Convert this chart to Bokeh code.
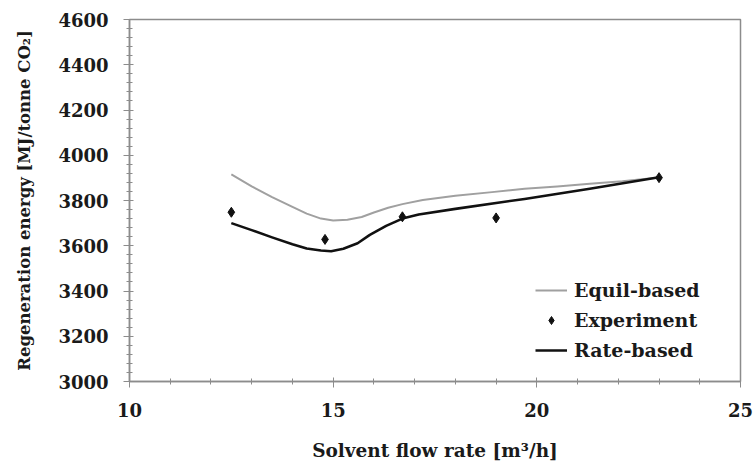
from bokeh.plotting import figure
from bokeh.models import FixedTicker, Legend, LegendItem, Range1d
from bokeh.embed import file_html
from bokeh.resources import INLINE

# Data
equil_x = [12.5, 13.0, 13.5, 14.0, 14.35, 14.7, 15.0, 15.35, 15.7, 16.0, 16.35, 16.7, 17.2, 18.0, 18.9, 19.7, 20.5, 21.3, 22.1, 23.0]
equil_y = [3915, 3862, 3815, 3772, 3742, 3720, 3712, 3715, 3727, 3747, 3768, 3784, 3802, 3821, 3837, 3852, 3862, 3874, 3885, 3902]

rate_x = [12.5, 13.0, 13.5, 14.0, 14.35, 14.7, 14.95, 15.25, 15.6, 15.9, 16.3, 16.7, 17.1, 18.0, 19.7, 21.3, 23.0]
rate_y = [3700, 3669, 3637, 3607, 3588, 3579, 3576, 3587, 3611, 3648, 3688, 3720, 3738, 3763, 3807, 3852, 3903]

exp_x = [12.5, 14.8, 16.7, 19.0, 23.0]
exp_y = [3748, 3628, 3728, 3723, 3901]

x_ticks = [10, 15, 20, 25]
y_ticks = [3000, 3200, 3400, 3600, 3800, 4000, 4200, 4400, 4600]
x_minor = list(range(10, 26))
y_minor = list(range(3000, 4601, 40))

FONT = "DejaVu Serif"
TXT = "#1a1a1a"
AX = "#8c8c8c"

p = figure(width=755, height=463, output_backend="svg", toolbar_location=None,
           x_range=Range1d(10, 25), y_range=Range1d(3000, 4600),
           min_border_left=129, min_border_right=15, min_border_top=19, min_border_bottom=82)
p.xgrid.visible = False
p.ygrid.visible = False
p.outline_line_color = AX
p.outline_line_width = 1.5

l_eq = p.line(equil_x, equil_y, line_color="#a0a0a0", line_width=2, line_join="round")
l_rate = p.line(rate_x, rate_y, line_color="#111111", line_width=2.6, line_join="round")
s_exp = p.scatter(exp_x, exp_y, marker="diamond", size=10, fill_color="#111111", line_color="#111111")

p.xaxis.ticker = FixedTicker(ticks=x_ticks, minor_ticks=x_minor)
p.yaxis.ticker = FixedTicker(ticks=y_ticks, minor_ticks=y_minor)

for ax in (p.xaxis[0], p.yaxis[0]):
    ax.axis_line_color = AX
    ax.axis_line_width = 1.5
    ax.major_tick_line_color = AX
    ax.minor_tick_line_color = AX
    ax.major_tick_out = 6
    ax.major_tick_in = 4
    ax.minor_tick_out = 3
    ax.minor_tick_in = 3
    ax.major_label_text_font = FONT
    ax.major_label_text_font_style = "bold"
    ax.major_label_text_font_size = "18px"
    ax.major_label_text_color = TXT
    ax.axis_label_text_font = FONT
    ax.axis_label_text_font_style = "bold"
    ax.axis_label_text_color = TXT

p.xaxis.major_label_standoff = 15
p.yaxis.major_label_standoff = 15
p.xaxis.axis_label = "Solvent flow rate [m³/h]"
p.xaxis.axis_label_text_font_size = "18.5px"
p.xaxis.axis_label_standoff = 20
p.yaxis.axis_label = "Regeneration energy [MJ/tonne CO₂]"
p.yaxis.axis_label_text_font_size = "16.5px"
p.yaxis.axis_label_standoff = 21

legend = Legend(items=[
    LegendItem(label="Equil-based", renderers=[l_eq]),
    LegendItem(label="Experiment", renderers=[s_exp]),
    LegendItem(label="Rate-based", renderers=[l_rate]),
], location=(406, 20))
legend.background_fill_alpha = 0
legend.border_line_alpha = 0
legend.padding = 0
legend.margin = 0
legend.spacing = 8
legend.glyph_width = 32
legend.glyph_height = 20
legend.label_height = 20
legend.label_standoff = 7
legend.label_text_font = FONT
legend.label_text_font_style = "bold"
legend.label_text_font_size = "19px"
legend.label_text_color = TXT
p.add_layout(legend, "center")

open("out.html", "w").write(file_html(p, INLINE))
